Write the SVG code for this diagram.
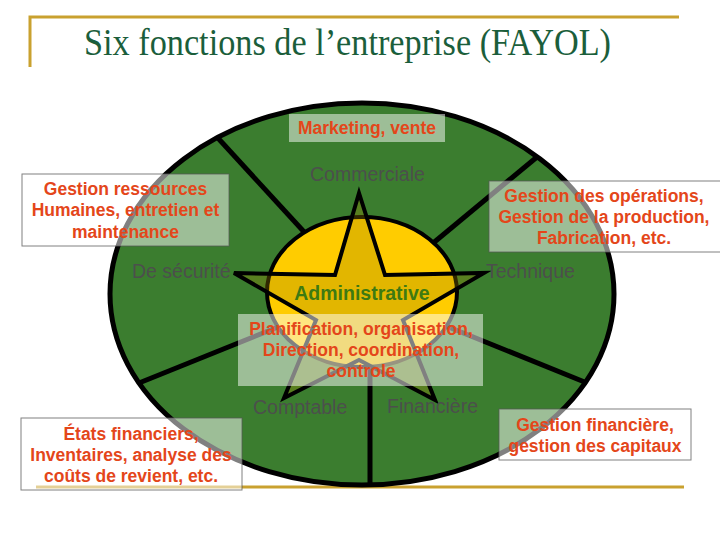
<svg xmlns="http://www.w3.org/2000/svg" width="720" height="540" viewBox="0 0 720 540">
<style>
.gold{stroke:#c9a12f;stroke-width:3;fill:none}
.div{stroke:#000;stroke-width:5;fill:none}
.sec{font-family:"Liberation Sans",Arial,sans-serif;font-size:19.5px;fill:#4c4f4c;text-anchor:start}
.box{fill:#fff;fill-opacity:0.5;stroke:#555;stroke-opacity:0.75;stroke-width:1}
.nob{fill:#fff;fill-opacity:0.5;stroke:none}
.ot{font-family:"Liberation Sans",Arial,sans-serif;font-size:17.5px;font-weight:bold;fill:#e4461a;text-anchor:middle}
</style>
<rect width="720" height="540" fill="#fff"/>
<g id="title">
<path class="gold" d="M30 67 V17 H679"/>
<text x="84" y="55" font-family="'Liberation Serif','Times New Roman',serif" font-size="37" fill="#1b5e3b" textLength="527" lengthAdjust="spacingAndGlyphs">Six fonctions de l’entreprise (FAYOL)</text>
</g>
<path class="gold" d="M36 487 H684"/>
<g id="wheel">
<ellipse cx="362" cy="294" rx="252" ry="191" fill="#3b7d2f" stroke="#000" stroke-width="5"/>
</g>
<g id="connectors">
<line class="div" x1="217" y1="137" x2="306" y2="234"/>
<line class="div" x1="537" y1="157" x2="432" y2="244"/>
<line class="div" x1="139" y1="383" x2="278" y2="327"/>
<line class="div" x1="587" y1="383" x2="446" y2="326"/>
<line class="div" x1="370" y1="365" x2="370" y2="487"/>
</g>
<g id="administrative">
<ellipse cx="362" cy="292" rx="95" ry="75" fill="#ffcc00" stroke="#000" stroke-width="4"/>
<polygon points="359,193 385,275 484,273 403,320 435,400 359,360 284,398 316,320 234,273 335,275" fill="#a08400" fill-opacity="0.3" stroke="#000" stroke-width="4" stroke-linejoin="miter"/>
<text x="362" y="300" font-family="'Liberation Sans',Arial,sans-serif" font-size="19.5" font-weight="bold" fill="#3d7a12" text-anchor="middle">Administrative</text>
</g>
<g id="commerciale"><text class="sec" x="310" y="181" font-size="20">Commerciale</text></g>
<g id="securite"><text class="sec" x="132" y="278">De sécurité</text></g>
<g id="technique"><text class="sec" x="486" y="278">Technique</text></g>
<g id="comptable"><text class="sec" x="253" y="414">Comptable</text></g>
<g id="financiere"><text class="sec" x="387" y="413">Financière</text></g>
<g id="box-marketing">
<rect class="nob" x="289" y="114" width="156" height="28"/>
<text class="ot" x="367" y="134">Marketing, vente</text>
</g>
<g id="box-rh">
<rect class="box" x="22" y="174" width="207" height="72"/>
<text class="ot" x="125.5" y="195">Gestion ressources</text>
<text class="ot" x="125.5" y="216">Humaines, entretien et</text>
<text class="ot" x="125.5" y="238">maintenance</text>
</g>
<g id="box-operations">
<rect class="box" x="489" y="181" width="240" height="71"/>
<text class="ot" x="604" y="202">Gestion des opérations,</text>
<text class="ot" x="604" y="223">Gestion de la production,</text>
<text class="ot" x="604" y="244">Fabrication, etc.</text>
</g>
<g id="box-admin">
<rect class="nob" x="238" y="314" width="245" height="72"/>
<text class="ot" x="361" y="335">Planification, organisation,</text>
<text class="ot" x="361" y="356">Direction, coordination,</text>
<text class="ot" x="361" y="377">controle</text>
</g>
<g id="box-comptable">
<rect class="box" x="21" y="418" width="221" height="72"/>
<text class="ot" x="131" y="440">États financiers,</text>
<text class="ot" x="131" y="461">Inventaires, analyse des</text>
<text class="ot" x="131" y="482">coûts de revient, etc.</text>
</g>
<g id="box-financiere">
<rect class="box" x="499" y="409" width="192" height="51"/>
<text class="ot" x="595" y="431">Gestion financière,</text>
<text class="ot" x="595" y="452">gestion des capitaux</text>
</g>
</svg>
